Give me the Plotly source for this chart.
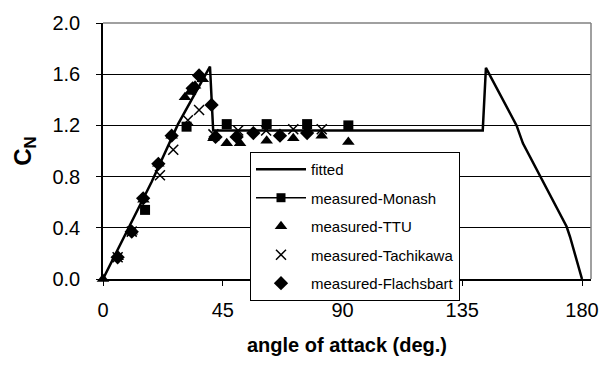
import plotly.graph_objects as go

# ---- data ----
fit_angle = [0, 18.3, 28.2, 40.2, 41.4, 142.7, 143.9, 155.4, 157.8, 174.2, 175.5, 180]
fit_cn = [0, 0.76, 1.21, 1.66, 1.16, 1.16, 1.65, 1.20, 1.06, 0.41, 0.33, 0]

monash_angle = [15.8, 31.4, 46.5, 61.5, 76.7, 92.2]
monash_cn = [0.54, 1.19, 1.21, 1.21, 1.21, 1.20]

ttu_angle = [0, 5.5, 10.8, 15.2, 20.8, 25.8, 30.8, 32.7, 34.6, 37.5, 41.5, 46.5, 51.5, 61.5, 71.5, 82.2, 92.2]
ttu_cn = [0, 0.17, 0.37, 0.62, 0.90, 1.12, 1.42, 1.46, 1.51, 1.56, 1.10, 1.06, 1.06, 1.08, 1.10, 1.12, 1.07]

tachi_angle = [5.5, 10.8, 21.4, 26.4, 31.9, 36.1, 41.5, 50.8, 61.3, 71.5, 82.2]
tachi_cn = [0.17, 0.37, 0.81, 1.01, 1.24, 1.32, 1.13, 1.16, 1.16, 1.17, 1.17]

flach_angle = [5.5, 10.8, 15.1, 20.8, 25.8, 33.7, 36.1, 40.8, 42.3, 50.2, 56.5, 66.5, 76.7]
flach_cn = [0.17, 0.37, 0.63, 0.90, 1.12, 1.49, 1.59, 1.36, 1.11, 1.11, 1.14, 1.12, 1.14]

x_ticks = [0, 45, 90, 135, 180]
y_ticks = [0.0, 0.4, 0.8, 1.2, 1.6, 2.0]

fig = go.Figure()
fig.add_trace(go.Scatter(x=fit_angle, y=fit_cn, mode="lines", name="fitted",
                         line=dict(color="black", width=2.5), legendgroup="a", cliponaxis=False))
# legend-only entry for Monash (line + marker)
fig.add_trace(go.Scatter(x=[None], y=[None], mode="lines+markers", name="measured-Monash",
                         line=dict(color="black", width=1.5),
                         marker=dict(symbol="square", size=9, color="black"), legendgroup="b"))
fig.add_trace(go.Scatter(x=monash_angle, y=monash_cn, mode="markers", name="measured-Monash",
                         marker=dict(symbol="square", size=10, color="black"),
                         showlegend=False, legendgroup="b", cliponaxis=False))
fig.add_trace(go.Scatter(x=ttu_angle, y=ttu_cn, mode="markers", name="measured-TTU",
                         marker=dict(symbol="triangle-up", size=11, color="black"),
                         legendgroup="c", cliponaxis=False))
fig.add_trace(go.Scatter(x=tachi_angle, y=tachi_cn, mode="markers", name="measured-Tachikawa",
                         marker=dict(symbol="x-thin", size=10, color="black",
                                     line=dict(color="black", width=1.5)),
                         legendgroup="d", cliponaxis=False))
fig.add_trace(go.Scatter(x=flach_angle, y=flach_cn, mode="markers", name="measured-Flachsbart",
                         marker=dict(symbol="diamond", size=11, color="black"),
                         legendgroup="e", cliponaxis=False))

L, R, T, B = 103, 21, 15, 84
W, H = 612, 365
pw = W - L - R
xmax = pw / (479 / 180)

fig.update_layout(
    width=W, height=H,
    margin=dict(l=L, r=R, t=T, b=B),
    paper_bgcolor="white", plot_bgcolor="white",
    font=dict(family="Liberation Sans, Arial, sans-serif", color="black", size=16),
    showlegend=True,
    legend=dict(x=(250 - L) / pw, y=(H - B - 149) / (H - B - T), xanchor="left", yanchor="top",
                bgcolor="white", bordercolor="black", borderwidth=1,
                itemwidth=50,
                font=dict(size=15, color="black"), tracegroupgap=6),
    xaxis=dict(range=[0, xmax], tickvals=x_ticks, ticktext=[str(v) for v in x_ticks],
               showgrid=False, zeroline=False, showline=True, linecolor="black", linewidth=1.5,
               ticks="outside", ticklen=5, tickcolor="black",
               tickfont=dict(size=20), ticklabelstandoff=7,
               title=dict(text="<b>angle of attack (deg.)</b>", font=dict(size=20), standoff=18)),
    yaxis=dict(range=[0, 2.0], tickvals=y_ticks, ticktext=["%.1f" % v for v in y_ticks],
               showgrid=True, gridcolor="black", gridwidth=1, zeroline=False,
               showline=True, linecolor="black", linewidth=1.5,
               ticks="outside", ticklen=5, tickcolor="black",
               tickfont=dict(size=20), ticklabelstandoff=12,
               title=dict(text="<b>C<sub>N</sub></b>", font=dict(size=24), standoff=14)),
    shapes=[
        dict(type="line", xref="paper", yref="paper", x0=0, x1=1, y0=1, y1=1,
             line=dict(color="#808080", width=1.5)),
        dict(type="line", xref="paper", yref="paper", x0=1, x1=1, y0=0, y1=1,
             line=dict(color="#808080", width=1.5)),
    ],
)

fig.write_html("out.html")
